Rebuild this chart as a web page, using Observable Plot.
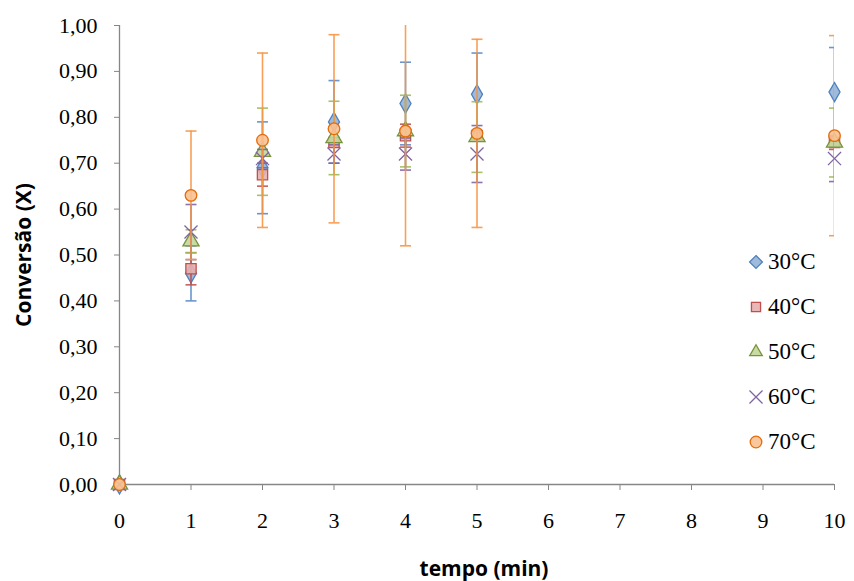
<!DOCTYPE html>
<html>
<head>
<meta charset="utf-8">
<script src="https://cdn.jsdelivr.net/npm/d3@7"></script>
<script src="https://cdn.jsdelivr.net/npm/@observablehq/plot@0.6"></script>
<style>
  html, body { margin: 0; padding: 0; background: #fff; }
  #wrap { position: relative; width: 854px; height: 581px; }
  .ttl { position: absolute; font-family: "Open Sans", sans-serif; font-weight: bold; font-size: 21px; color: #000; white-space: nowrap; }
  #legend { position: absolute; left: 746px; top: 239px; font-family: "Liberation Serif", serif; font-size: 23px; color: #000; }
  .li { display: flex; align-items: center; height: 45px; }
  .li svg { margin-right: 2px; }
  svg text { font-family: "Liberation Serif", serif; }
</style>
</head>
<body>
<div id="wrap"></div>
<script>
// ---- data ----
const tempo = [0, 1, 2, 3, 4, 5, 10];
const xTicks = [0, 1, 2, 3, 4, 5, 6, 7, 8, 9, 10];
const yTicks = [0, 0.1, 0.2, 0.3, 0.4, 0.5, 0.6, 0.7, 0.8, 0.9, 1.0];
const seriesNames = ["30°C", "40°C", "50°C", "60°C", "70°C"];
const x30 = [0, 0.46, 0.69, 0.79, 0.83, 0.85, 0.855];
const e30 = [0, 0.06, 0.10, 0.09, 0.09, 0.09, 0.097];
const x40 = [0, 0.47, 0.675, 0.745, 0.76, 0.76, 0.745];
const e40 = [0, 0.035, 0.025, 0.01, 0.025, 0.01, 0.015];
const x50 = [0, 0.53, 0.725, 0.755, 0.77, 0.757, 0.745];
const e50 = [0, 0.025, 0.095, 0.08, 0.078, 0.077, 0.075];
const x60 = [0, 0.55, 0.71, 0.72, 0.72, 0.72, 0.71];
const e60 = [0, 0.06, 0.02, 0.02, 0.035, 0.062, 0.05];
const x70 = [0, 0.63, 0.75, 0.775, 0.77, 0.765, 0.76];
const e70 = [0, 0.14, 0.19, 0.205, 0.25, 0.205, 0.218];

const values = [x30, x40, x50, x60, x70];
const errors = [e30, e40, e50, e60, e70];

// ---- styles ----
const styles = [
  {symbol: "diamond", fill: "#95B3D7", stroke: "#4F81BD", bar: "#5B8AC6", r: 5.8},
  {symbol: "square", fill: "#E6B0AE", stroke: "#C0504D", bar: "#C0504D", r: 5.8},
  {symbol: "triangle", fill: "#C3D69B", stroke: "#77933C", bar: "#9BBB59", r: 6.0},
  {symbol: "times", fill: "none", stroke: "#8064A2", bar: "#8064A2", r: 6.0},
  {symbol: "circle", fill: "#FAC090", stroke: "#E46C0A", bar: "#F79646", r: 5.8}
];

const capSymbol = {
  draw(ctx, size) {
    const w = 5.5;
    ctx.moveTo(-w, 0);
    ctx.lineTo(w, 0);
  }
};

const fmt = d => d.toFixed(2).replace(".", ",");

const marks = [
  Plot.ruleY([0], {stroke: "#868686", strokeWidth: 1.3}),
  Plot.ruleX([0], {stroke: "#868686", strokeWidth: 1.3}),
  Plot.axisY({ticks: yTicks, tickFormat: fmt, tickSize: 5, tickPadding: 17, stroke: "#868686", fill: "#000", label: null, fontSize: 22}),
  Plot.axisX({ticks: xTicks, tickFormat: d => String(d), tickSize: 6, tickPadding: 22, stroke: "#868686", fill: "#000", label: null, fontSize: 22})
];

seriesNames.forEach((name, i) => {
  const rows = tempo.map((t, j) => ({t, v: values[i][j], e: errors[i][j]}));
  const st = styles[i];
  const withErr = rows.filter(d => d.e > 0);
  marks.push(
    Plot.ruleX(withErr, {x: "t", y1: d => d.v - d.e, y2: d => d.v + d.e, stroke: st.bar, strokeWidth: 1.6, strokeOpacity: 0.9, clip: "frame"}),
    Plot.dot(withErr, {x: "t", y: d => d.v + d.e, symbol: capSymbol, r: 3, stroke: st.bar, strokeWidth: 1.6, strokeOpacity: 0.9, clip: "frame"}),
    Plot.dot(withErr, {x: "t", y: d => d.v - d.e, symbol: capSymbol, r: 3, stroke: st.bar, strokeWidth: 1.6, strokeOpacity: 0.9, clip: "frame"}),
    Plot.dot(rows, {x: "t", y: "v", symbol: st.symbol, r: st.r, fill: st.fill, fillOpacity: 0.9, stroke: st.stroke, strokeWidth: 1.3})
  );
});

const chart = Plot.plot({
  width: 854,
  height: 581,
  marginLeft: 119,
  marginRight: 20,
  marginTop: 25,
  marginBottom: 97,
  x: {domain: [0, 10]},
  y: {domain: [0, 1]},
  style: {fontFamily: "'Liberation Serif', serif", fontSize: "22px", background: "#fff", color: "#000"},
  marks
});

const wrap = document.getElementById("wrap");
wrap.appendChild(chart);

// axis titles
const yt = document.createElement("div");
yt.className = "ttl";
yt.textContent = "Conversão (X)";
yt.style.left = "23px";
yt.style.top = "255px";
yt.style.transform = "translate(-50%, -50%) rotate(-90deg)";
wrap.appendChild(yt);

const xt = document.createElement("div");
xt.className = "ttl";
xt.textContent = "tempo (min)";
xt.style.left = "484px";
xt.style.top = "568px";
xt.style.transform = "translate(-50%, -50%)";
wrap.appendChild(xt);

// legend
const leg = document.createElement("div");
leg.id = "legend";
seriesNames.forEach((name, i) => {
  const st = styles[i];
  const row = document.createElement("div");
  row.className = "li";
  const svg = d3.create("svg").attr("width", 20).attr("height", 20);
  const sym = {diamond: d3.symbolDiamond2, square: d3.symbolSquare2, triangle: d3.symbolTriangle2, times: d3.symbolTimes, circle: d3.symbolCircle}[st.symbol];
  const size = Math.PI * st.r * st.r;
  svg.append("path")
    .attr("transform", "translate(10,10)")
    .attr("d", d3.symbol(sym, size)())
    .attr("fill", st.fill)
    .attr("fill-opacity", 0.9)
    .attr("stroke", st.stroke)
    .attr("stroke-width", 1.3);
  row.appendChild(svg.node());
  const span = document.createElement("span");
  span.textContent = name;
  row.appendChild(span);
  leg.appendChild(row);
});
wrap.appendChild(leg);
</script>
</body>
</html>
